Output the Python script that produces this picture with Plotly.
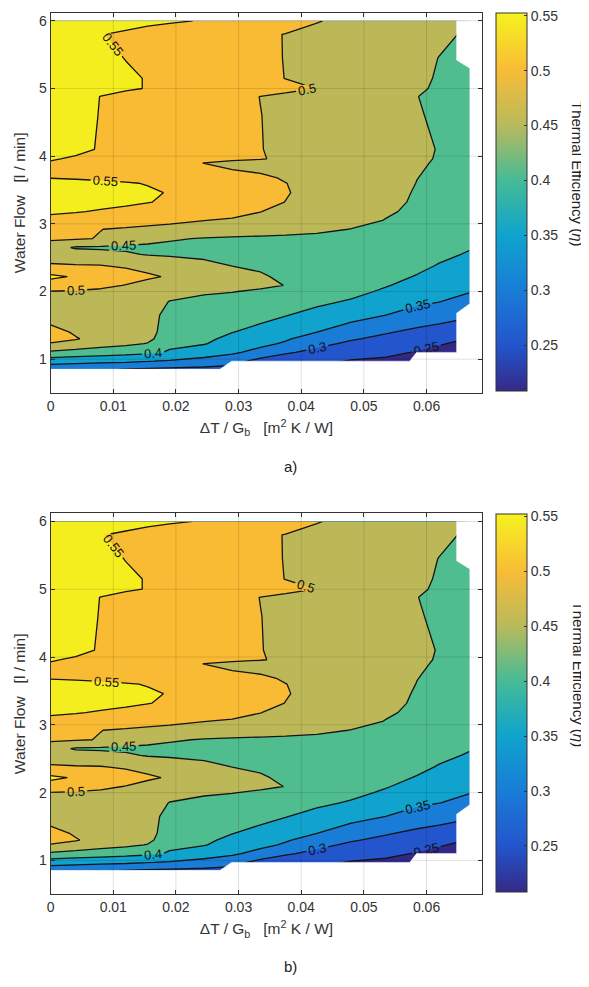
import plotly.graph_objects as go

# ---------------- data ----------------
# columns: dT/Gb  [m2 K / W]
DTG = [0, 0.004, 0.008, 0.012, 0.0155, 0.019, 0.0245, 0.029,
       0.0335, 0.0375, 0.0425, 0.048, 0.0535, 0.0585, 0.062, 0.0669]
# rows: water flow [l / min]
FLOW = [0.85, 0.97, 1.1, 1.23, 1.3, 1.4, 1.65, 1.85, 2.0, 2.09, 2.22, 2.38,
        2.55, 2.65, 2.78, 2.92, 3.05, 3.18, 3.32, 3.46, 3.6, 3.68, 3.9, 3.96,
        4.1, 4.6, 4.88, 5.0, 5.15, 5.45, 5.8, 6.0]

# thermal efficiency, panel a)
EFF_A = [
    [0.315, 0.31, 0.305, 0.298, 0.293, 0.29, 0.287, 0.282, 0.27, 0.255, 0.24, 0.225, 0.21, 0.2, 0.19, 0.18],
    [0.372, 0.367, 0.362, 0.358, 0.352, 0.345, 0.333, 0.319, 0.282, 0.268, 0.262, 0.2466, 0.241, 0.229, 0.214, 0.2],
    [0.442, 0.431, 0.424, 0.417, 0.409, 0.396, 0.3735, 0.358, 0.333, 0.306, 0.287, 0.269, 0.26, 0.247, 0.234, 0.21],
    [0.497, 0.486, 0.47, 0.46, 0.448, 0.408, 0.403, 0.378, 0.3625, 0.344, 0.313, 0.291, 0.279, 0.265, 0.255, 0.235],
    [0.52, 0.503, 0.485, 0.472, 0.46, 0.425, 0.408, 0.39, 0.372, 0.355, 0.328, 0.304, 0.289, 0.275, 0.266, 0.248],
    [0.515, 0.495, 0.483, 0.47, 0.465, 0.43, 0.412, 0.401, 0.386, 0.37, 0.35, 0.325, 0.304, 0.289, 0.281, 0.263],
    [0.48, 0.475, 0.47, 0.466, 0.462, 0.44, 0.425, 0.422, 0.414, 0.402, 0.384, 0.367, 0.35, 0.33, 0.32, 0.307],
    [0.485, 0.482, 0.478, 0.472, 0.465, 0.449, 0.44, 0.438, 0.432, 0.42, 0.41, 0.395, 0.374, 0.359, 0.351, 0.333],
    [0.499, 0.496, 0.49, 0.483, 0.474, 0.462, 0.455, 0.451, 0.446, 0.44, 0.43, 0.413, 0.393, 0.375, 0.363, 0.352],
    [0.526, 0.52, 0.512, 0.498, 0.485, 0.475, 0.468, 0.462, 0.455, 0.4495, 0.438, 0.423, 0.403, 0.384, 0.371, 0.359],
    [0.56, 0.545, 0.535, 0.522, 0.507, 0.4955, 0.48, 0.47, 0.456, 0.44, 0.436, 0.428, 0.415, 0.397, 0.382, 0.369],
    [0.505, 0.503, 0.502, 0.494, 0.485, 0.476, 0.462, 0.4495, 0.442, 0.44, 0.436, 0.43, 0.422, 0.411, 0.397, 0.382],
    [0.48, 0.472, 0.465, 0.456, 0.447, 0.444, 0.44, 0.436, 0.433, 0.431, 0.428, 0.426, 0.423, 0.418, 0.41, 0.396],
    [0.47, 0.445, 0.443, 0.442, 0.44, 0.438, 0.436, 0.434, 0.432, 0.43, 0.428, 0.426, 0.423, 0.42, 0.415, 0.403],
    [0.508, 0.504, 0.498, 0.475, 0.465, 0.455, 0.447, 0.443, 0.441, 0.44, 0.438, 0.436, 0.433, 0.43, 0.427, 0.42],
    [0.53, 0.518, 0.5005, 0.495, 0.49, 0.486, 0.482, 0.478, 0.473, 0.467, 0.459, 0.449, 0.444, 0.437, 0.432, 0.425],
    [0.54, 0.535, 0.53, 0.523, 0.516, 0.51, 0.5005, 0.495, 0.49, 0.484, 0.475, 0.465, 0.4485, 0.438, 0.432, 0.425],
    [0.555, 0.552, 0.547, 0.542, 0.537, 0.532, 0.524, 0.514, 0.5005, 0.49, 0.48, 0.47, 0.455, 0.442, 0.435, 0.428],
    [0.563, 0.562, 0.56, 0.556, 0.551, 0.546, 0.535, 0.523, 0.51, 0.4995, 0.488, 0.476, 0.46, 0.445, 0.438, 0.43],
    [0.565, 0.564, 0.562, 0.559, 0.555, 0.548, 0.533, 0.522, 0.511, 0.502, 0.49, 0.478, 0.462, 0.447, 0.44, 0.432],
    [0.562, 0.561, 0.558, 0.553, 0.548, 0.54, 0.528, 0.518, 0.508, 0.5005, 0.49, 0.481, 0.47, 0.449, 0.44, 0.432],
    [0.549, 0.546, 0.542, 0.537, 0.532, 0.526, 0.518, 0.512, 0.506, 0.497, 0.488, 0.48, 0.47, 0.4505, 0.442, 0.435],
    [0.548, 0.543, 0.537, 0.53, 0.522, 0.512, 0.4995, 0.49, 0.486, 0.484, 0.48, 0.475, 0.468, 0.455, 0.446, 0.438],
    [0.552, 0.547, 0.541, 0.535, 0.529, 0.522, 0.514, 0.508, 0.502, 0.494, 0.486, 0.478, 0.47, 0.456, 0.4475, 0.44],
    [0.562, 0.556, 0.548, 0.541, 0.535, 0.529, 0.52, 0.51, 0.501, 0.4925, 0.485, 0.478, 0.47, 0.457, 0.4485, 0.44],
    [0.565, 0.558, 0.549, 0.542, 0.536, 0.53, 0.52, 0.51, 0.5005, 0.492, 0.485, 0.477, 0.468, 0.4525, 0.445, 0.435],
    [0.565, 0.56, 0.5495, 0.543, 0.537, 0.53, 0.52, 0.51, 0.4995, 0.493, 0.485, 0.476, 0.466, 0.4505, 0.443, 0.435],
    [0.565, 0.562, 0.558, 0.553, 0.549, 0.54, 0.53, 0.522, 0.515, 0.508, 0.4995, 0.488, 0.476, 0.455, 0.445, 0.44],
    [0.565, 0.562, 0.558, 0.553, 0.549, 0.54, 0.53, 0.518, 0.508, 0.4995, 0.49, 0.48, 0.47, 0.457, 0.447, 0.44],
    [0.565, 0.56, 0.555, 0.5495, 0.54, 0.533, 0.525, 0.516, 0.507, 0.499, 0.49, 0.48, 0.47, 0.458, 0.4495, 0.44],
    [0.565, 0.56, 0.551, 0.545, 0.538, 0.532, 0.525, 0.515, 0.506, 0.499, 0.49, 0.482, 0.474, 0.466, 0.456, 0.446],
    [0.57, 0.57, 0.566, 0.562, 0.558, 0.554, 0.548, 0.535, 0.525, 0.515, 0.502, 0.49, 0.48, 0.47, 0.465, 0.46],
]
# panel b) reads the same as panel a) at this resolution
EFF_B = [list(row) for row in EFF_A]

# outline of the measured domain (bottom edge, then right edge)
EDGE_DTG = [0, 0.0270, 0.0289, 0.0573, 0.0584, 0.0648, 0.0648, 0.0669, 0.0669, 0.0648, 0.0648]
EDGE_FLOW = [0.85, 0.85, 0.97, 0.97, 1.10, 1.10, 1.68, 1.82, 5.30, 5.42, 6.0]

LEVEL_START, LEVEL_END, LEVEL_STEP = 0.25, 0.55, 0.05
X_TICKS = [0, 0.01, 0.02, 0.03, 0.04, 0.05, 0.06]
X_TICK_TEXT = ["0", "0.01", "0.02", "0.03", "0.04", "0.05", "0.06"]
Y_TICKS = [1, 2, 3, 4, 5, 6]
CB_TICKS = [0.25, 0.3, 0.35, 0.4, 0.45, 0.5, 0.55]
CB_LIMITS = [0.208, 0.552]
X_RANGE = [0, 0.0689]
Y_RANGE = [0.5, 6.12]
PANEL_LABELS = ["a)", "b)"]

# ---------------- styling ----------------
FONT = "Liberation Sans, Arial, Helvetica, sans-serif"
AXC = "#333333"
BAND_COLORS = ["rgb(50,40,135)", "rgb(35,85,205)", "rgb(25,125,215)", "rgb(15,163,205)",
               "rgb(80,189,142)", "rgb(188,184,88)", "rgb(249,187,52)", "rgb(244,238,30)"]
nb = len(BAND_COLORS) - 1
band_scale = [[k / nb, c] for k, c in enumerate(BAND_COLORS)]

CB_STOPS = [(0.208, "rgb(52,42,135)"), (0.25, "rgb(35,85,205)"), (0.30, "rgb(25,125,215)"),
            (0.35, "rgb(15,163,205)"), (0.40, "rgb(70,187,150)"), (0.45, "rgb(185,186,92)"),
            (0.50, "rgb(248,188,55)"), (0.55, "rgb(246,240,32)"), (0.552, "rgb(248,250,20)")]
cb_scale = [[(v - CB_LIMITS[0]) / (CB_LIMITS[1] - CB_LIMITS[0]), c] for v, c in CB_STOPS]
cb_scale[-1][0] = 1.0

# the page adds an 8 px body margin; lay out in window pixels and convert
PAGE_PAD = 8
WIN_W, WIN_H = 589, 987
W, H = WIN_W - PAGE_PAD, WIN_H - PAGE_PAD


def px(xw):
    return (xw - PAGE_PAD) / W


def py(yw):
    return 1 - (yw - PAGE_PAD) / H


XDOM = [px(50.6), px(482.3)]
YDOMS = [[py(393.0), py(12.7)], [py(894.3), py(513.3)]]
PAN_OFF = [0.0, 500.6]

fig = go.Figure()
shapes = []
annotations = []
for i, eff in enumerate([EFF_A, EFF_B]):
    xa = "x" if i == 0 else "x2"
    ya = "y" if i == 0 else "y2"
    fig.add_trace(go.Contour(
        x=DTG, y=FLOW, z=eff, xaxis=xa, yaxis=ya,
        autocontour=False,
        contours=dict(start=LEVEL_START, end=LEVEL_END, size=LEVEL_STEP,
                      coloring="fill", showlabels=True, labelformat=".2~f",
                      labelfont=dict(family=FONT, size=13, color="#111111")),
        colorscale=band_scale, showscale=False,
        line=dict(color="#151515", width=1.3, smoothing=0),
        hoverinfo="skip",
    ))
    # white outside of the measured domain
    mask_x = EDGE_DTG + [DTG[-1] + 0.001, DTG[-1] + 0.001, DTG[0]]
    mask_y = EDGE_FLOW + [FLOW[-1] + 0.01, FLOW[0] - 0.02, FLOW[0] - 0.02]
    fig.add_trace(go.Scatter(x=mask_x, y=mask_y, xaxis=xa, yaxis=ya, mode="lines",
                             fill="toself", fillcolor="white",
                             line=dict(color="white", width=0.5),
                             hoverinfo="skip", showlegend=False))
    # continuous colour bar
    fig.add_trace(go.Scatter(
        x=[None], y=[None], xaxis=xa, yaxis=ya, mode="markers", showlegend=False,
        hoverinfo="skip",
        marker=dict(color=[CB_LIMITS[0]], cmin=CB_LIMITS[0], cmax=CB_LIMITS[1],
                    colorscale=cb_scale, showscale=True,
                    colorbar=dict(x=px(496), xanchor="left", xpad=0, ypad=0,
                                  y=py(202.5 + PAN_OFF[i]), yanchor="middle",
                                  len=(391.7 - 13.3) / H, lenmode="fraction",
                                  thickness=31, thicknessmode="pixels",
                                  outlinewidth=1, outlinecolor=AXC,
                                  tickvals=CB_TICKS, ticktext=[f"{v:g}" for v in CB_TICKS],
                                  ticks="inside", ticklen=3, tickcolor=AXC,
                                  ticklabeloverflow="allow",
                                  tickfont=dict(family=FONT, size=14, color=AXC)))))
    # grid lines drawn over the filled contours
    for xv in X_TICKS[1:]:
        shapes.append(dict(type="line", xref=xa, yref=f"{ya} domain", x0=xv, x1=xv, y0=0, y1=1,
                           line=dict(color="rgba(0,0,0,0.12)", width=1), layer="above"))
    for yv in Y_TICKS:
        shapes.append(dict(type="line", xref=f"{xa} domain", yref=ya, x0=0, x1=1, y0=yv, y1=yv,
                           line=dict(color="rgba(0,0,0,0.12)", width=1), layer="above"))
    annotations.append(dict(text="Thermal Efficiency (<i>η</i>)", xref="paper", yref="paper",
                            x=px(578), y=py(174 + PAN_OFF[i]), textangle=90,
                            showarrow=False, xanchor="center", yanchor="middle",
                            font=dict(family=FONT, size=15, color="#222222")))
    annotations.append(dict(text=PANEL_LABELS[i], xref="paper", yref="paper",
                            x=px(290), y=py(466 + PAN_OFF[i]), showarrow=False,
                            xanchor="center", yanchor="middle",
                            font=dict(family=FONT, size=15, color="#222222")))

axis_common = dict(showline=True, linecolor=AXC, linewidth=1, mirror="ticks",
                   ticks="inside", ticklen=4, tickcolor=AXC, showgrid=False, zeroline=False,
                   automargin=False, layer="above traces",
                   tickfont=dict(family=FONT, size=14, color=AXC))
xt = "ΔT / G<sub>b</sub>\u00a0\u00a0\u00a0[m<sup>2</sup> K / W]"
yt = "Water Flow\u00a0\u00a0\u00a0[l / min]"
layout = dict(width=W, height=H, margin=dict(l=0, r=0, t=0, b=0, autoexpand=False),
              paper_bgcolor="white", plot_bgcolor="white", showlegend=False,
              shapes=shapes, annotations=annotations, font=dict(family=FONT))
for i in range(2):
    xk = "xaxis" if i == 0 else "xaxis2"
    yk = "yaxis" if i == 0 else "yaxis2"
    layout[xk] = dict(axis_common, domain=XDOM, range=X_RANGE, tickvals=X_TICKS,
                      ticktext=X_TICK_TEXT, anchor="y" if i == 0 else "y2",
                      title=dict(text=xt, standoff=9, font=dict(family=FONT, size=15.5, color=AXC)))
    layout[yk] = dict(axis_common, domain=YDOMS[i], range=Y_RANGE, tickvals=Y_TICKS,
                      anchor="x" if i == 0 else "x2",
                      title=dict(text=yt, standoff=9, font=dict(family=FONT, size=15.5, color=AXC)))
fig.update_layout(**layout)
fig.write_html("out.html")
